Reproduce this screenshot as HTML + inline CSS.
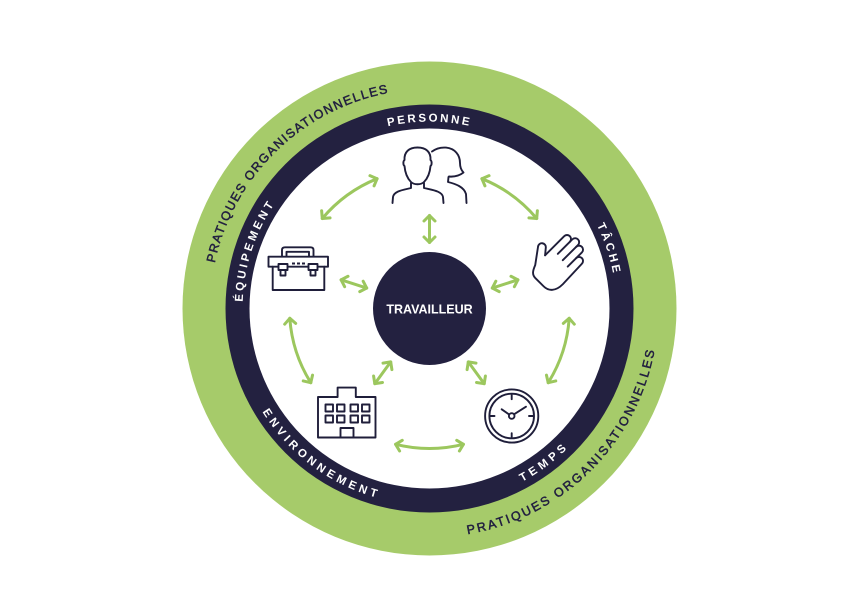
<!DOCTYPE html>
<html>
<head>
<meta charset="utf-8">
<style>
  html, body { margin: 0; padding: 0; background: #ffffff; }
  body { width: 860px; height: 615px; overflow: hidden; }
  svg { position: absolute; left: 0; top: 0; }
  .nv { font-family: "Liberation Sans", sans-serif; font-size: 11.5px; font-weight: bold; fill: #ffffff; }
  .gr { font-family: "Liberation Sans", sans-serif; font-size: 12.5px; fill: #232140; stroke: #232140; stroke-width: 0.5px; }
  .ic { fill: none; stroke: #1f1e3a; stroke-width: 1.9; stroke-linecap: round; stroke-linejoin: round; }
  .ar { fill: none; stroke: #9cc75e; stroke-width: 3; stroke-linecap: round; }
</style>
</head>
<body>
<svg width="860" height="615" viewBox="0 0 860 615" xmlns="http://www.w3.org/2000/svg" xmlns:xlink="http://www.w3.org/1999/xlink">
  <defs>
    <marker id="ah" markerUnits="userSpaceOnUse" viewBox="-10 -10 20 20" markerWidth="20" markerHeight="20" refX="0" refY="0" orient="auto-start-reverse" overflow="visible">
      <path d="M-5.5,-5.5 L0,0 L-5.5,5.5" fill="none" stroke="#9cc75e" stroke-width="3" stroke-linecap="round" stroke-linejoin="round"/>
    </marker>
    <path id="pPer" d="M267.6,215 A187,187 0 0 1 591.4,215"/>
    <path id="pTac" d="M467.4,125.4 A187,187 0 0 1 569.1,432.9"/>
    <path id="pEqu" d="M289.9,432.9 A187,187 0 0 1 391.6,125.4"/>
    <path id="pEnv" d="M234.3,286.3 A196.5,196.5 0 0 0 507.8,488.7"/>
    <path id="pTem" d="M352.1,489.1 A196.5,196.5 0 0 0 624.6,285.2"/>
    <path id="pPO1" d="M216.8,362.7 A219.5,219.5 0 0 1 488.9,97.2"/>
    <path id="pPO2" d="M369.3,529.4 A229,229 0 0 0 650.9,250.2"/>
  </defs>

  <!-- rings -->
  <circle cx="429.5" cy="308.5" r="247" fill="#a6cb6a"/>
  <circle cx="429.5" cy="308.5" r="204" fill="#232140"/>
  <circle cx="429.5" cy="308.5" r="180" fill="#ffffff"/>
  <circle cx="429.5" cy="308.5" r="56.5" fill="#232140"/>

  <!-- ring labels -->
  <text class="nv" style="letter-spacing:2.4px"><textPath xlink:href="#pPer" href="#pPer" startOffset="50%" text-anchor="middle">PERSONNE</textPath></text>
  <text class="nv" style="letter-spacing:2.8px"><textPath xlink:href="#pTac" href="#pTac" startOffset="50%" text-anchor="middle">TÂCHE</textPath></text>
  <text class="nv" style="letter-spacing:3px"><textPath xlink:href="#pEqu" href="#pEqu" startOffset="50%" text-anchor="middle">ÉQUIPEMENT</textPath></text>
  <text class="nv" style="letter-spacing:3.7px"><textPath xlink:href="#pEnv" href="#pEnv" startOffset="50%" text-anchor="middle">ENVIRONNEMENT</textPath></text>
  <text class="nv" style="letter-spacing:4px"><textPath xlink:href="#pTem" href="#pTem" startOffset="50%" text-anchor="middle">TEMPS</textPath></text>
  <text class="gr" style="letter-spacing:1.45px"><textPath xlink:href="#pPO1" href="#pPO1" startOffset="50%" text-anchor="middle">PRATIQUES ORGANISATIONNELLES</textPath></text>
  <text class="gr" style="letter-spacing:2.25px"><textPath xlink:href="#pPO2" href="#pPO2" startOffset="50%" text-anchor="middle">PRATIQUES ORGANISATIONNELLES</textPath></text>

  <!-- center label -->
  <text x="429.5" y="313.5" text-anchor="middle" font-family="Liberation Sans, sans-serif" font-size="12.5" font-weight="bold" fill="#ffffff">TRAVAILLEUR</text>

  <!-- arc arrows (r=140) -->
  <path class="ar" d="M322.3,218.5 A140,140 0 0 1 377.1,178.7" marker-start="url(#ah)" marker-end="url(#ah)"/>
  <path class="ar" d="M481.9,178.7 A140,140 0 0 1 536.7,218.5" marker-start="url(#ah)" marker-end="url(#ah)"/>
  <path class="ar" d="M569.2,318.3 A140,140 0 0 1 548.2,382.7" marker-start="url(#ah)" marker-end="url(#ah)"/>
  <path class="ar" d="M463.4,444.3 A140,140 0 0 1 395.6,444.3" marker-start="url(#ah)" marker-end="url(#ah)"/>
  <path class="ar" d="M310.8,382.7 A140,140 0 0 1 289.8,318.3" marker-start="url(#ah)" marker-end="url(#ah)"/>

  <!-- radial arrows -->
  <path class="ar" d="M429.5,242.5 L429.5,215.5" marker-start="url(#ah)" marker-end="url(#ah)"/>
  <path class="ar" d="M492.3,288.1 L517.9,279.8" marker-start="url(#ah)" marker-end="url(#ah)"/>
  <path class="ar" d="M468.3,361.9 L484.2,383.7" marker-start="url(#ah)" marker-end="url(#ah)"/>
  <path class="ar" d="M390.7,361.9 L374.8,383.7" marker-start="url(#ah)" marker-end="url(#ah)"/>
  <path class="ar" d="M366.7,288.1 L341.1,279.8" marker-start="url(#ah)" marker-end="url(#ah)"/>

  <!-- person icon -->
  <g class="ic">
    <path d="M411,182 C407,178 405,172 404.5,166 C403,165 403,161 404.5,160 C404,152 409,147.5 417.5,147.5 C426,147.5 431,152 430.5,160 C432,161 432,165 430.5,166 C430,172 428,178 424,182 C421,185 414,185 411,182 Z"/>
    <path d="M411,183 L411,188 C403,190 394,191 393,197 L392.5,203"/>
    <path d="M424,183 L424,188 C432,190 442,191 443,197 L443.5,203"/>
    <path d="M432,151.5 C436,148.5 441,147.2 446,147.6 C455,148.5 460,155 460,163 C460,167 461,170 463.5,172.5 C459,176 454,177 449,176.5"/>
    <path d="M448.5,177 L448,182 C456,184 464,187 466,194 L466.5,203"/>
  </g>

  <!-- toolbox icon -->
  <g class="ic">
    <path d="M282,256.5 L282,250 Q282,247.3 285,247.3 L310.5,247.3 Q313.5,247.3 313.5,250 L313.5,256.5"/>
    <path d="M286.5,256.5 L286.5,251.8 L309,251.8 L309,256.5"/>
    <rect x="268.5" y="256.7" width="59.5" height="10"/>
    <path d="M272.7,266.7 L272.7,290 L324.3,290 L324.3,266.7"/>
    <rect x="278.5" y="264" width="9" height="6" fill="#ffffff"/>
    <rect x="280.5" y="270" width="5" height="5.5" fill="#ffffff"/>
    <rect x="308.5" y="264" width="9" height="6" fill="#ffffff"/>
    <rect x="310.5" y="270" width="5" height="5.5" fill="#ffffff"/>
    <path d="M292,263.5 L305,263.5" stroke-dasharray="3 2" stroke-linecap="butt"/>
  </g>

  <!-- hand icon -->
  <g class="ic" transform="translate(555,268) rotate(45)">
    <path d="M-16,-2 L-16,-29 A4,4 0 0 1 -8,-29 L-8,-12"/>
    <path d="M-8,-29 L-8,-32.5 A4,4 0 0 1 0,-32.5 L0,-11"/>
    <path d="M0,-30 A4,4 0 0 1 8,-30 L8,-10"/>
    <path d="M8,-22 A4,4 0 0 1 16,-22 L17,6 C17,16 12,21 5,21 L-7,21 C-12,21 -14,17 -16,12 L-27,-3 A3.8,3.8 0 0 1 -21,-8 L-16,-2"/>
  </g>

  <!-- building icon -->
  <g class="ic">
    <path d="M318,437.5 L318,397 L337.6,397 L337.6,387.6 L355.8,387.6 L355.8,397 L375.5,397 L375.5,437.5 Z"/>
    <rect x="325.5" y="404.5" width="7.5" height="7"/>
    <rect x="337" y="404.5" width="7.5" height="7"/>
    <rect x="350.5" y="404.5" width="7.5" height="7"/>
    <rect x="362" y="404.5" width="7.5" height="7"/>
    <rect x="325.5" y="415.5" width="7.5" height="7"/>
    <rect x="337" y="415.5" width="7.5" height="7"/>
    <rect x="350.5" y="415.5" width="7.5" height="7"/>
    <rect x="362" y="415.5" width="7.5" height="7"/>
    <path d="M340.5,437.5 L340.5,428 L353.5,428 L353.5,437.5"/>
  </g>

  <!-- clock icon -->
  <g class="ic">
    <circle cx="511.7" cy="416" r="26.6"/>
    <circle cx="511.7" cy="416" r="22.3"/>
    <path d="M511.7,395 L511.7,399.2 M511.7,433.2 L511.7,437 M490.5,416 L494.5,416 M529,416 L533,416"/>
    <path d="M509.3,414.6 L501.7,409.3"/>
    <path d="M514,414.3 L526,406.7"/>
    <circle cx="511.7" cy="416" r="2.8" fill="#ffffff"/>
  </g>
</svg>
</body>
</html>
